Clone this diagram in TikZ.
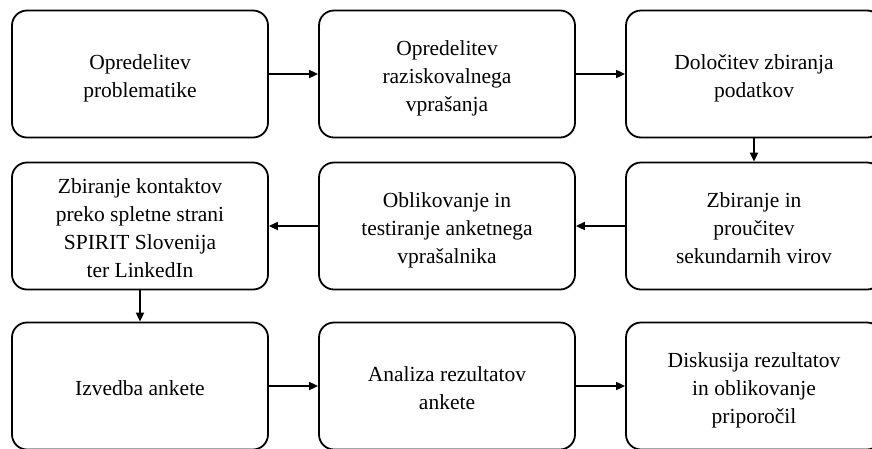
\documentclass[tikz,border=0pt]{standalone}
\usepackage{fontspec}
\setmainfont{Liberation Serif}
\usetikzlibrary{arrows.meta}
% centred block of lines, set slightly below the box centre
\newcommand{\boxtext}[1]{\raisebox{-4pt}[\height][\depth]{\begin{tabular}{@{}c@{}}#1\end{tabular}}}
\begin{document}
\begin{tikzpicture}[x=1pt,y=-1pt,
  stepbox/.style={draw=black, line width=1.8pt, rounded corners=15pt,
    minimum width=256pt, minimum height=127pt, align=center,
    inner sep=0pt, font=\fontsize{21.5}{28}\selectfont},
  flow/.style={line width=1.8pt, -{Triangle[length=9pt,width=8pt]}}]
\useasboundingbox (0,0) rectangle (872,448);
\clip (0,0) rectangle (872,448);
% row 1
\node[stepbox] (a1) at (140,74)  {\boxtext{Opredelitev\\problematike}};
\node[stepbox] (a2) at (447,74)  {\boxtext{Opredelitev\\raziskovalnega\\vprašanja}};
\node[stepbox] (a3) at (754,74)  {\boxtext{Določitev zbiranja\\podatkov}};
% row 2
\node[stepbox] (b3) at (754,226) {\boxtext{Zbiranje in\\proučitev\\sekundarnih virov}};
\node[stepbox] (b2) at (447,226) {\boxtext{Oblikovanje in\\testiranje anketnega\\vprašalnika}};
\node[stepbox] (b1) at (140,226) {\boxtext{Zbiranje kontaktov\\preko spletne strani\\SPIRIT Slovenija\\ter LinkedIn}};
% row 3
\node[stepbox] (c1) at (140,386) {\boxtext{Izvedba ankete}};
\node[stepbox] (c2) at (447,386) {\boxtext{Analiza rezultatov\\ankete}};
\node[stepbox] (c3) at (754,386) {\boxtext{Diskusija rezultatov\\in oblikovanje\\priporočil}};
% connectors
\draw[flow] (a1) -- (a2);
\draw[flow] (a2) -- (a3);
\draw[flow] (a3) -- (b3);
\draw[flow] (b3) -- (b2);
\draw[flow] (b2) -- (b1);
\draw[flow] (b1) -- (c1);
\draw[flow] (c1) -- (c2);
\draw[flow] (c2) -- (c3);
\end{tikzpicture}
\end{document}
